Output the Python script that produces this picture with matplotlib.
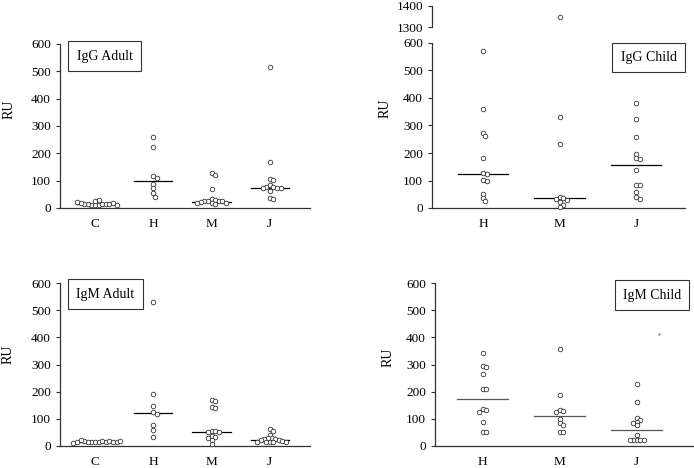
import numpy as np
import matplotlib
matplotlib.use("Agg")
import matplotlib.pyplot as plt

plt.rcParams['font.family'] = ['Liberation Serif', 'DejaVu Serif']

# IgG, adults
igg_adult_groups = ['C', 'H', 'M', 'J']
igg_adult_C = [10, 12, 12, 13, 14, 14, 15, 16, 18, 20, 22, 25, 28, 12]
igg_adult_H = [258, 222, 118, 110, 88, 72, 55, 42]
igg_adult_M = [128, 122, 70, 32, 30, 26, 25, 24, 24, 22, 20, 18, 17, 16]
igg_adult_J = [515, 168, 107, 101, 84, 78, 76, 75, 74, 72, 62, 35, 32]
igg_adult_median = [13, 100, 23, 75]

# IgG, children
igg_child_groups = ['H', 'M', 'J']
igg_child_H = [570, 360, 272, 260, 182, 127, 122, 102, 100, 52, 38, 26]
igg_child_M = [1350, 330, 232, 40, 38, 34, 30, 22, 12, 5]
igg_child_J = [380, 325, 258, 198, 180, 178, 137, 85, 84, 57, 40, 33]
igg_child_median = [125, 36, 156]

# IgM, adults
igm_adult_groups = ['C', 'H', 'M', 'J']
igm_adult_C = [15, 14, 16, 18, 13, 15, 17, 20, 22, 14, 16, 15, 12, 18]
igm_adult_H = [530, 192, 147, 126, 118, 78, 58, 32]
igm_adult_M = [168, 165, 142, 140, 55, 54, 52, 50, 38, 32, 30, 22, 8]
igm_adult_J = [62, 55, 42, 30, 28, 26, 25, 23, 22, 20, 16, 15, 14, 14, 13]
igm_adult_median = [15, 122, 52, 23]

# IgM, children
igm_child_groups = ['H', 'M', 'J']
igm_child_H = [342, 296, 290, 264, 211, 209, 136, 134, 125, 90, 50, 50]
igm_child_M = [356, 188, 133, 130, 124, 98, 84, 78, 52, 52]
igm_child_J = [228, 162, 104, 95, 90, 85, 76, 42, 22, 22, 21, 21, 21]
igm_child_median = [172, 110, 58]
igm_child_speck = (3.29, 411)

y_ticks = [0, 100, 200, 300, 400, 500, 600]
break_ticks = [1300, 1400]

W, H = 694, 468
DOT = 3.6          # px, spacing between dot centres
EDGE = '#333333'


def swarm(ax, xc, values):
    """x positions so that open circles don't pile on each other"""
    tr = ax.transData
    px_per_x = tr.transform((1, 0))[0] - tr.transform((0, 0))[0]
    placed = []
    xs = []
    step = 0.5 * DOT
    cands = [0.0]
    for k in range(1, 40):
        cands += [k * step, -k * step]
    for v in values:
        py = tr.transform((0, v))[1]
        for c in cands:
            if all((c - qx) ** 2 + (py - qy) ** 2 >= DOT ** 2 for qx, qy in placed):
                break
        placed.append((c, py))
        xs.append(xc + c / px_per_x)
    return xs


def style(ax, groups, xlim):
    for s in ('top', 'right'):
        ax.spines[s].set_visible(False)
    for s in ('left', 'bottom'):
        ax.spines[s].set_color(EDGE)
        ax.spines[s].set_linewidth(0.9)
    ax.set_xlim(*xlim)
    ax.set_ylim(0, 600)
    ax.set_yticks(y_ticks)
    ax.set_xticks(range(1, len(groups) + 1))
    ax.set_xticklabels(groups)
    ax.tick_params(axis='y', length=3, width=0.8, color=EDGE, pad=3.5, labelsize=9.5)
    ax.tick_params(axis='x', length=0, pad=7, labelsize=9.5)
    ax.set_facecolor('none')


def panel(ax, groups, series, medians, label, label_xy, ylab_xy, line_color='black', big_ax=None):
    for i, (vals, med) in enumerate(zip(series, medians)):
        xc = i + 1
        low = [v for v in vals if v <= 600]
        high = [v for v in vals if v > 600]
        ax.plot(swarm(ax, xc, low), low, 'o', ms=3.3, mfc='white', mec=EDGE, mew=0.6,
                clip_on=False, zorder=3)
        if high and big_ax is not None:
            big_ax.plot([xc] * len(high), high, 'o', ms=3.3, mfc='white', mec=EDGE, mew=0.6,
                        clip_on=False, zorder=3)
        ax.plot([xc - 0.33, xc + 0.33], [med, med], color=line_color, lw=0.9, zorder=2)
    ax.set_ylabel('RU', fontsize=10)
    ax.yaxis.set_label_coords(*ylab_xy)
    ax.text(label_xy[0], label_xy[1], label, transform=ax.transAxes, fontsize=10,
            ha='center', va='center',
            bbox=dict(boxstyle='square,pad=0.6', fc='white', ec=EDGE, lw=0.8))


def fig_rect(x0, y0, x1, y1):
    return [x0 / W, 1 - y1 / H, (x1 - x0) / W, (y1 - y0) / H]


fig = plt.figure(figsize=(6.94, 4.68), dpi=100)

# top left
ax1 = fig.add_axes(fig_rect(60, 44, 310, 208))
style(ax1, igg_adult_groups, (0.40, 4.69))
panel(ax1, igg_adult_groups, [igg_adult_C, igg_adult_H, igg_adult_M, igg_adult_J],
      igg_adult_median, 'IgG Adult', (0.178, 0.925), (-0.176, 0.6))

# top right, with broken axis
ax2 = fig.add_axes(fig_rect(432, 43, 685, 208))
style(ax2, igg_child_groups, (0.33, 3.64))
ax2b = fig.add_axes(fig_rect(432, 6, 685, 27.3), sharex=ax2)
ax2b.set_ylim(1300, 1400)
ax2b.set_yticks(break_ticks)
for s in ('top', 'right', 'bottom'):
    ax2b.spines[s].set_visible(False)
ax2b.spines['left'].set_color(EDGE)
ax2b.spines['left'].set_linewidth(0.9)
ax2b.tick_params(axis='y', length=3, width=0.8, color=EDGE, pad=3.5, labelsize=9.5)
ax2b.tick_params(axis='x', bottom=False, labelbottom=False)
ax2b.set_facecolor('none')
panel(ax2, igg_child_groups, [igg_child_H, igg_child_M, igg_child_J],
      igg_child_median, 'IgG Child', (0.856, 0.912), (-0.159, 0.606), big_ax=ax2b)

# bottom left
ax3 = fig.add_axes(fig_rect(60, 283, 310, 446))
style(ax3, igm_adult_groups, (0.40, 4.69))
panel(ax3, igm_adult_groups, [igm_adult_C, igm_adult_H, igm_adult_M, igm_adult_J],
      igm_adult_median, 'IgM Adult', (0.182, 0.932), (-0.18, 0.56))

# bottom right
ax4 = fig.add_axes(fig_rect(435, 283, 693, 446))
style(ax4, igm_child_groups, (0.38, 3.73))
panel(ax4, igm_child_groups, [igm_child_H, igm_child_M, igm_child_J],
      igm_child_median, 'IgM Child', (0.841, 0.926), (-0.155, 0.546), line_color='#555555')
ax4.plot([igm_child_speck[0]], [igm_child_speck[1]], '.', ms=1.2, color='#777777')

fig.savefig('out.png', dpi=100)
